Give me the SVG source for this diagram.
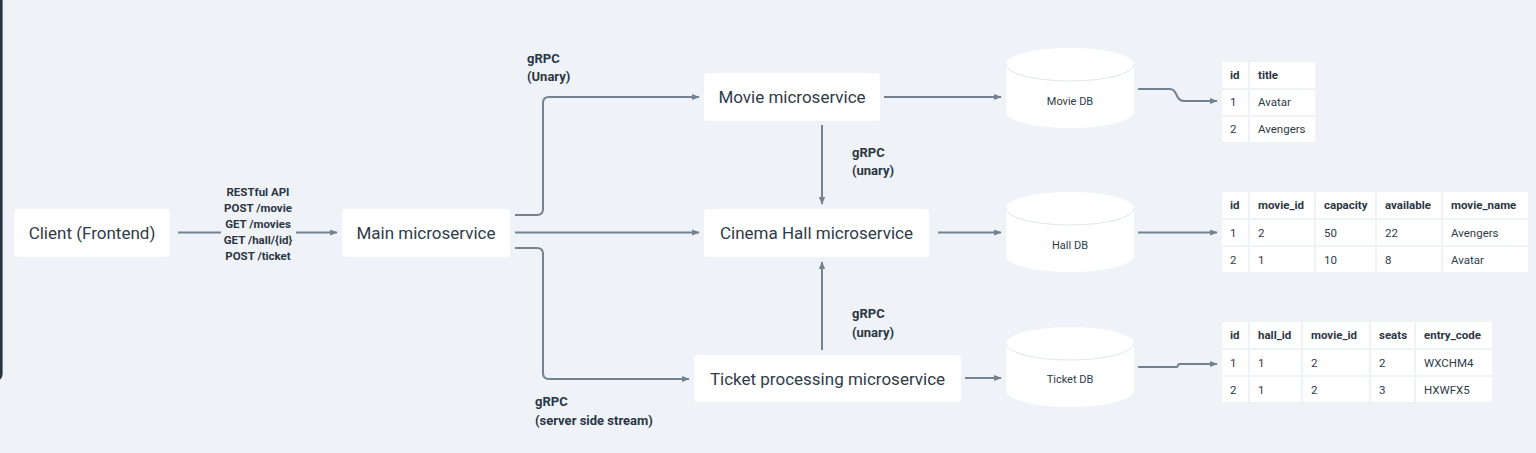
<svg xmlns="http://www.w3.org/2000/svg" width="1536" height="453" viewBox="0 0 1536 453">
<defs>
<style>
.bg{fill:#eff3f7}
.box{fill:#ffffff}
.ntext{font-family:Roboto,"Liberation Sans",sans-serif;font-size:17px;fill:#2e3b49;text-anchor:middle}
.lbl{font-family:Roboto,"Liberation Sans",sans-serif;font-size:13px;font-weight:bold;fill:#2b3644}
.rest{font-family:Roboto,"Liberation Sans",sans-serif;font-size:11.5px;font-weight:bold;fill:#2b3644;text-anchor:middle}
.dbtext{font-family:Roboto,"Liberation Sans",sans-serif;font-size:11px;fill:#2e3b49;text-anchor:middle}
.cyl{fill:#ffffff}
.cyltop{fill:none;stroke:#dfe5eb;stroke-width:1}
.conn{fill:none;stroke:#738291;stroke-width:2}
.cell{fill:#ffffff}
.th{font-family:Roboto,"Liberation Sans",sans-serif;font-size:11.5px;font-weight:bold;fill:#2b3644}
.td{font-family:Roboto,"Liberation Sans",sans-serif;font-size:11.5px;fill:#2e3b49}
</style>
<marker id="arrow" viewBox="0 0 10 10" refX="9" refY="5" markerWidth="8" markerHeight="8" markerUnits="userSpaceOnUse" orient="auto">
<path d="M0,1 L10,5 L0,9 Z" fill="#738291"/>
</marker>
</defs>

<rect class="bg" x="0" y="0" width="1536" height="453"/>
<rect x="-20" y="-20" width="21.3" height="400" rx="6" fill="none" stroke="#27333f" stroke-width="2.6"/>

<g id="connectors">
<path class="conn" d="M178 232.5 H337" marker-end="url(#arrow)"/>
<path class="conn" d="M515 215 H537 Q543 215 543 209 V103 Q543 97 549 97 H699" marker-end="url(#arrow)"/>
<path class="conn" d="M515 232.5 H699" marker-end="url(#arrow)"/>
<path class="conn" d="M515 248 H537 Q543 248 543 254 V373 Q543 379 549 379 H689" marker-end="url(#arrow)"/>
<path class="conn" d="M822 125 V204" marker-end="url(#arrow)"/>
<path class="conn" d="M822 350 V262" marker-end="url(#arrow)"/>
<path class="conn" d="M884 97 H1001" marker-end="url(#arrow)"/>
<path class="conn" d="M938 232.5 H1001" marker-end="url(#arrow)"/>
<path class="conn" d="M965 378 H1001" marker-end="url(#arrow)"/>
<path class="conn" d="M1138 89 H1170 C1178 89 1175 101 1184 101 H1217" marker-end="url(#arrow)"/>
<path class="conn" d="M1138 232.5 H1217" marker-end="url(#arrow)"/>
<path class="conn" d="M1138 367 H1177 L1179 364 H1217" marker-end="url(#arrow)"/>
</g>

<g id="label-rest">
<rect class="bg" x="221" y="184" width="75" height="80"/>
<text class="rest" x="258" y="196">RESTful API</text>
<text class="rest" x="258" y="212">POST /movie</text>
<text class="rest" x="258" y="228">GET /movies</text>
<text class="rest" x="258" y="244">GET /hall/{id}</text>
<text class="rest" x="258" y="260">POST /ticket</text>
</g>
<g id="label-grpc-movie">
<text class="lbl" x="527" y="62.5">gRPC</text>
<text class="lbl" x="527" y="80.5">(Unary)</text>
</g>
<g id="label-grpc-movie-hall">
<text class="lbl" x="852" y="156.5">gRPC</text>
<text class="lbl" x="852" y="174.5">(unary)</text>
</g>
<g id="label-grpc-ticket-hall">
<text class="lbl" x="852" y="317.5">gRPC</text>
<text class="lbl" x="852" y="336.5">(unary)</text>
</g>
<g id="label-grpc-ticket">
<text class="lbl" x="535" y="406">gRPC</text>
<text class="lbl" x="535" y="424.5">(server side stream)</text>
</g>

<g id="client">
<rect class="box" x="14" y="209" width="156" height="48" rx="4"/>
<text class="ntext" x="92" y="239">Client (Frontend)</text>
</g>
<g id="main">
<rect class="box" x="342" y="209" width="168" height="48" rx="4"/>
<text class="ntext" x="426" y="239">Main microservice</text>
</g>
<g id="movie">
<rect class="box" x="704" y="73" width="176" height="48" rx="4"/>
<text class="ntext" x="792" y="103">Movie microservice</text>
</g>
<g id="cinema-hall">
<rect class="box" x="704" y="209" width="225" height="48" rx="4"/>
<text class="ntext" x="816.5" y="239">Cinema Hall microservice</text>
</g>
<g id="ticket">
<rect class="box" x="694" y="355" width="267" height="47" rx="4"/>
<text class="ntext" x="827.5" y="384.5">Ticket processing microservice</text>
</g>

<g id="movie-db" transform="translate(1006,48)">
<path class="cyl" d="M0 16.5 A64 16.5 0 0 1 128 16.5 V63.5 A64 16.5 0 0 1 0 63.5 Z"/>
<path class="cyltop" d="M0 16.5 A64 16.5 0 0 0 128 16.5"/>
<text class="dbtext" x="64" y="57">Movie DB</text>
</g>
<g id="hall-db" transform="translate(1006,192)">
<path class="cyl" d="M0 16.5 A64 16.5 0 0 1 128 16.5 V63.5 A64 16.5 0 0 1 0 63.5 Z"/>
<path class="cyltop" d="M0 16.5 A64 16.5 0 0 0 128 16.5"/>
<text class="dbtext" x="64" y="57">Hall DB</text>
</g>
<g id="ticket-db" transform="translate(1006,327)">
<path class="cyl" d="M0 16.5 A64 16.5 0 0 1 128 16.5 V63.5 A64 16.5 0 0 1 0 63.5 Z"/>
<path class="cyltop" d="M0 16.5 A64 16.5 0 0 0 128 16.5"/>
<text class="dbtext" x="64" y="56">Ticket DB</text>
</g>

<g id="movie-table">
<rect class="cell" x="1222" y="62" width="26" height="26"/>
<rect class="cell" x="1250" y="62" width="65" height="26"/>
<rect class="cell" x="1222" y="90" width="26" height="25"/>
<rect class="cell" x="1250" y="90" width="65" height="25"/>
<rect class="cell" x="1222" y="117" width="26" height="25"/>
<rect class="cell" x="1250" y="117" width="65" height="25"/>
<text class="th" x="1230" y="79">id</text>
<text class="th" x="1258" y="79">title</text>
<text class="td" x="1230" y="106">1</text>
<text class="td" x="1258" y="106">Avatar</text>
<text class="td" x="1230" y="133">2</text>
<text class="td" x="1258" y="133">Avengers</text>
</g>

<g id="hall-table">
<rect class="cell" x="1222" y="192" width="26" height="26"/>
<rect class="cell" x="1250" y="192" width="64" height="26"/>
<rect class="cell" x="1316" y="192" width="59" height="26"/>
<rect class="cell" x="1377" y="192" width="64" height="26"/>
<rect class="cell" x="1443" y="192" width="85" height="26"/>
<rect class="cell" x="1222" y="220" width="26" height="25"/>
<rect class="cell" x="1250" y="220" width="64" height="25"/>
<rect class="cell" x="1316" y="220" width="59" height="25"/>
<rect class="cell" x="1377" y="220" width="64" height="25"/>
<rect class="cell" x="1443" y="220" width="85" height="25"/>
<rect class="cell" x="1222" y="247" width="26" height="25"/>
<rect class="cell" x="1250" y="247" width="64" height="25"/>
<rect class="cell" x="1316" y="247" width="59" height="25"/>
<rect class="cell" x="1377" y="247" width="64" height="25"/>
<rect class="cell" x="1443" y="247" width="85" height="25"/>
<text class="th" x="1230" y="209">id</text>
<text class="th" x="1258" y="209">movie_id</text>
<text class="th" x="1324" y="209">capacity</text>
<text class="th" x="1385" y="209">available</text>
<text class="th" x="1451" y="209">movie_name</text>
<text class="td" x="1230" y="236.5">1</text>
<text class="td" x="1258" y="236.5">2</text>
<text class="td" x="1324" y="236.5">50</text>
<text class="td" x="1385" y="236.5">22</text>
<text class="td" x="1451" y="236.5">Avengers</text>
<text class="td" x="1230" y="263.5">2</text>
<text class="td" x="1258" y="263.5">1</text>
<text class="td" x="1324" y="263.5">10</text>
<text class="td" x="1385" y="263.5">8</text>
<text class="td" x="1451" y="263.5">Avatar</text>
</g>

<g id="ticket-table">
<rect class="cell" x="1222" y="322" width="26" height="26"/>
<rect class="cell" x="1250" y="322" width="51" height="26"/>
<rect class="cell" x="1303" y="322" width="66" height="26"/>
<rect class="cell" x="1371" y="322" width="43" height="26"/>
<rect class="cell" x="1416" y="322" width="76" height="26"/>
<rect class="cell" x="1222" y="350" width="26" height="25"/>
<rect class="cell" x="1250" y="350" width="51" height="25"/>
<rect class="cell" x="1303" y="350" width="66" height="25"/>
<rect class="cell" x="1371" y="350" width="43" height="25"/>
<rect class="cell" x="1416" y="350" width="76" height="25"/>
<rect class="cell" x="1222" y="377" width="26" height="25"/>
<rect class="cell" x="1250" y="377" width="51" height="25"/>
<rect class="cell" x="1303" y="377" width="66" height="25"/>
<rect class="cell" x="1371" y="377" width="43" height="25"/>
<rect class="cell" x="1416" y="377" width="76" height="25"/>
<text class="th" x="1230" y="339">id</text>
<text class="th" x="1258" y="339">hall_id</text>
<text class="th" x="1311" y="339">movie_id</text>
<text class="th" x="1379" y="339">seats</text>
<text class="th" x="1424" y="339">entry_code</text>
<text class="td" x="1230" y="366.5">1</text>
<text class="td" x="1258" y="366.5">1</text>
<text class="td" x="1311" y="366.5">2</text>
<text class="td" x="1379" y="366.5">2</text>
<text class="td" x="1424" y="366.5">WXCHM4</text>
<text class="td" x="1230" y="393.5">2</text>
<text class="td" x="1258" y="393.5">1</text>
<text class="td" x="1311" y="393.5">2</text>
<text class="td" x="1379" y="393.5">3</text>
<text class="td" x="1424" y="393.5">HXWFX5</text>
</g>
</svg>
